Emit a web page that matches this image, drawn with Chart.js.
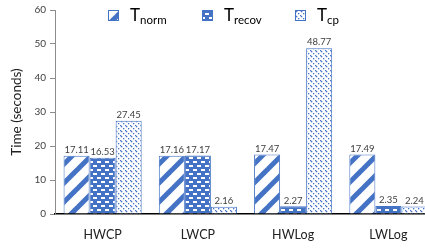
<!DOCTYPE html>
<html>
<head>
<meta charset="utf-8">
<script src="https://cdn.jsdelivr.net/npm/chart.js@4"></script>
<style>
    html, body { margin: 0; padding: 0; background: #fff; overflow: hidden; }
    #wrap { width: 436px; height: 250px; }
</style>
</head>
<body>
<div id="wrap"><canvas id="chart" width="436" height="250"></canvas></div>
<script>
const categories = ["HWCP", "LWCP", "HWLog", "LWLog"],
    tNorm = [17.11, 17.16, 17.47, 17.49],
    tRecov = [16.53, 17.17, 2.27, 2.35],
    tCp = [27.45, 2.16, 48.77, 2.24],
    yTicks = [0, 10, 20, 30, 40, 50, 60],
    names = [["T", "norm"], ["T", "recov"], ["T", "cp"]];

const blue = "#4472C4",
    font = "Lato, 'Open Sans', sans-serif",
    ink = "#404040";

function tile(size, draw) {
    const c = document.createElement("canvas");
    c.width = c.height = size;
    const g = c.getContext("2d");
    draw(g, size);
    return document.getElementById("chart").getContext("2d").createPattern(c, "repeat");
}

// wide "/" stripes on white
const pNorm = tile(19, (g, s) => {
    g.fillStyle = "#fff";
    g.fillRect(0, 0, s, s);
    g.strokeStyle = blue;
    g.lineWidth = 5;
    [-s, 0, s].forEach(o => {
        g.beginPath();
        g.moveTo(o - 2, s + 2);
        g.lineTo(o + s + 2, -2);
        g.stroke();
    });
});

// blue with white brick dashes
const pRecov = tile(8, (g, s) => {
    g.fillStyle = blue;
    g.fillRect(0, 0, s, s);
    g.fillStyle = "#fff";
    g.fillRect(1, 1, 4, 2);
    g.fillRect(5, 5, 3, 2);
    g.fillRect(0, 5, 1, 2);
});

// thin dotted "\" lines on white
const pCp = tile(5, (g, s) => {
    g.fillStyle = "#fff";
    g.fillRect(0, 0, s, s);
    g.fillStyle = blue;
    [0, 1, 3].forEach(i => g.fillRect(i, i, 1.3, 1.3));
});

const patterns = [pNorm, pRecov, pCp];

const valueLabels = {
    id: "valueLabels",
    afterDatasetsDraw(chart) {
        const ctx = chart.ctx;
        ctx.save();
        ctx.font = "9.5px " + font;
        ctx.fillStyle = ink;
        ctx.textAlign = "center";
        ctx.textBaseline = "bottom";
        chart.data.datasets.forEach((ds, i) => {
            chart.getDatasetMeta(i).data.forEach((bar, j) => {
                ctx.fillText(ds.data[j].toFixed(2), bar.x, bar.y - 1);
            });
        });
        ctx.restore();
    }
};

const subLegend = {
    id: "subLegend",
    afterDraw(chart) {
        const ctx = chart.ctx,
            xs = [108, 202, 295];
        ctx.save();
        names.forEach((n, i) => {
            const x = xs[i];
            ctx.fillStyle = patterns[i];
            ctx.fillRect(x, 10, 11, 11);
            ctx.strokeStyle = blue;
            ctx.lineWidth = 1;
            ctx.strokeRect(x + 0.5, 10.5, 10, 10);
            ctx.fillStyle = "#000";
            ctx.textBaseline = "alphabetic";
            ctx.textAlign = "left";
            ctx.font = "17px " + font;
            ctx.fillText(n[0], x + 22, 21);
            const w = ctx.measureText(n[0]).width;
            ctx.font = "11.5px " + font;
            ctx.fillText(n[1], x + 22 + w, 24);
        });
        ctx.restore();
    }
};

new Chart(document.getElementById("chart"), {
    type: "bar",
    data: {
        labels: categories,
        datasets: [tNorm, tRecov, tCp].map((d, i) => ({
            label: names[i].join(""),
            data: d,
            backgroundColor: patterns[i],
            borderColor: blue,
            borderWidth: 1,
            barPercentage: 1,
            categoryPercentage: 0.82,
        }))
    },
    options: {
        responsive: false,
        animation: false,
        layout: { padding: { top: 9, right: 0, left: 0, bottom: 0 } },
        plugins: {
            legend: { display: false },
            tooltip: { enabled: false }
        },
        scales: {
            x: {
                grid: { display: false, drawTicks: false },
                border: { color: "#000", width: 1.5 },
                ticks: { color: "#222", font: { family: font, size: 12.5 }, padding: 13 },
                afterFit: s => { s.height = 36; }
            },
            y: {
                min: 0,
                max: 60,
                afterBuildTicks: s => { s.ticks = yTicks.map(v => ({ value: v })); },
                grid: { drawOnChartArea: false, drawTicks: true, tickLength: 5, color: "#8c8c8c" },
                border: { color: "#8c8c8c", width: 1 },
                ticks: { color: ink, font: { family: font, size: 10 }, padding: 4 },
                title: {
                    display: true,
                    text: "Time (seconds)",
                    color: "#222",
                    font: { family: font, size: 13.5 },
                    padding: { top: 9, bottom: 0 }
                },
                afterFit: s => { s.width = 55; }
            }
        }
    },
    plugins: [valueLabels, subLegend]
});
</script>
</body>
</html>
